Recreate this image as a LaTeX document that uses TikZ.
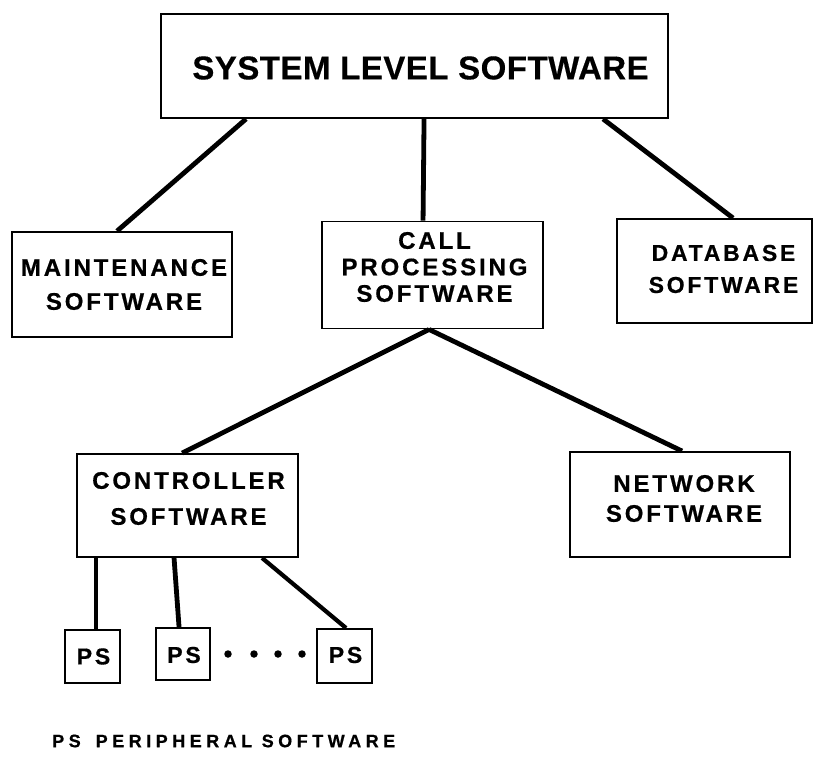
\documentclass[tikz,border=0pt]{standalone}
\usepackage{fontspec}
\setmainfont{Liberation Sans}
\newfontfamily\lblfont[LetterSpace=12, BoldFeatures={FakeBold=0.6}]{Liberation Sans}
\newfontfamily\legfont[LetterSpace=25, BoldFeatures={FakeBold=0.6}]{Liberation Sans}
\newfontfamily\ttlfont[LetterSpace=1.5, BoldFeatures={FakeBold=0.4}]{Liberation Sans}
\usetikzlibrary{calc}
\tikzset{
  box/.style={draw, line width=1.9pt, inner sep=0pt},
  txt/.style={inner sep=0pt, align=center},
  conn/.style={line width=4.8pt},
  dotn/.style={circle, fill, inner sep=0pt, minimum size=7.5pt},
}
\begin{document}
\begin{tikzpicture}[x=1pt,y=-1pt]
\useasboundingbox (0,0) rectangle (820,758);
% boxes
\node[box, minimum width=507pt, minimum height=104pt] (top) at (414.5,66) {};
\node[box, minimum width=220pt, minimum height=105pt] (maint) at (122,284.5) {};
\node[box, minimum width=221pt, minimum height=107pt] (call) at (432.5,275) {};
\node[box, minimum width=195pt, minimum height=104pt] (db) at (714.5,271) {};
\node[box, minimum width=221pt, minimum height=103pt] (ctrl) at (187.5,505.5) {};
\node[box, minimum width=220pt, minimum height=105pt] (net) at (680,504.5) {};
\node[box, minimum width=55pt, minimum height=53pt] (ps1) at (92.5,656.5) {};
\node[box, minimum width=54pt, minimum height=52pt] (ps2) at (183,654) {};
\node[box, minimum width=55pt, minimum height=54pt] (ps3) at (344.5,656) {};
% texts
\node[txt, font=\ttlfont\bfseries\fontsize{33pt}{36pt}\selectfont] (topt) at ($(top)+(6,2)$) {SYSTEM LEVEL SOFTWARE};
\node[txt, font=\lblfont\bfseries\fontsize{24pt}{34pt}\selectfont] (maintt) at ($(maint)+(2,0)$) {MAINTENANCE\\SOFTWARE};
\node[txt, font=\lblfont\bfseries\fontsize{24pt}{26.5pt}\selectfont] (callt) at ($(call)+(2,-8)$) {CALL\\PROCESSING\\SOFTWARE};
\node[txt, font=\lblfont\bfseries\fontsize{23pt}{32pt}\selectfont] (dbt) at ($(db)+(9,-2)$) {DATABASE\\SOFTWARE};
\node[txt, font=\lblfont\bfseries\fontsize{24pt}{36pt}\selectfont] (ctrlt) at ($(ctrl)+(1,-7)$) {CONTROLLER\\SOFTWARE};
\node[txt, font=\lblfont\bfseries\fontsize{24pt}{30pt}\selectfont] (nett) at ($(net)+(4,-6)$) {NETWORK\\SOFTWARE};
\node[txt, font=\lblfont\bfseries\fontsize{23pt}{24pt}\selectfont] (ps1t) at ($(ps1)+(1,0)$) {PS};
\node[txt, font=\lblfont\bfseries\fontsize{23pt}{24pt}\selectfont] (ps2t) at ($(ps2)+(1,1)$) {PS};
\node[txt, font=\lblfont\bfseries\fontsize{23pt}{24pt}\selectfont] (ps3t) at ($(ps3)+(1,-1)$) {PS};
% dots
\node[dotn] (d1) at (228,654) {};
\node[dotn] (d2) at (254,654) {};
\node[dotn] (d3) at (278,654) {};
\node[dotn] (d4) at (302,654) {};
% connectors
\draw[conn] ($(top.south west)+(86,0)$) -- ($(maint.north west)+(106,0)$);
\draw[conn] ($(top.south west)+(264,0)$) -- ($(call.north west)+(102,0)$);
\draw[conn] ($(top.south west)+(443,0)$) -- ($(db.north west)+(117,0)$);
\draw[conn] ($(call.south west)+(108,0)$) -- ($(ctrl.north west)+(106,0)$);
\draw[conn] ($(call.south west)+(108,0)$) -- ($(net.north west)+(113,0)$);
\draw[conn] ($(ctrl.south west)+(20,0)$) -- ($(ps1.north west)+(32,0)$);
\draw[conn] ($(ctrl.south west)+(98,0)$) -- ($(ps2.north west)+(24,0)$);
\draw[conn, line width=4.2pt] ($(ctrl.south west)+(186,0)$) -- ($(ps3.north west)+(30,0)$);
% legend
\node[anchor=west, inner sep=0pt, font=\legfont\bfseries\fontsize{18pt}{20pt}\selectfont] (legend) at (52,741) {PS\hspace{15pt}PERIPHERAL SOFTWARE};
\end{tikzpicture}
\end{document}
